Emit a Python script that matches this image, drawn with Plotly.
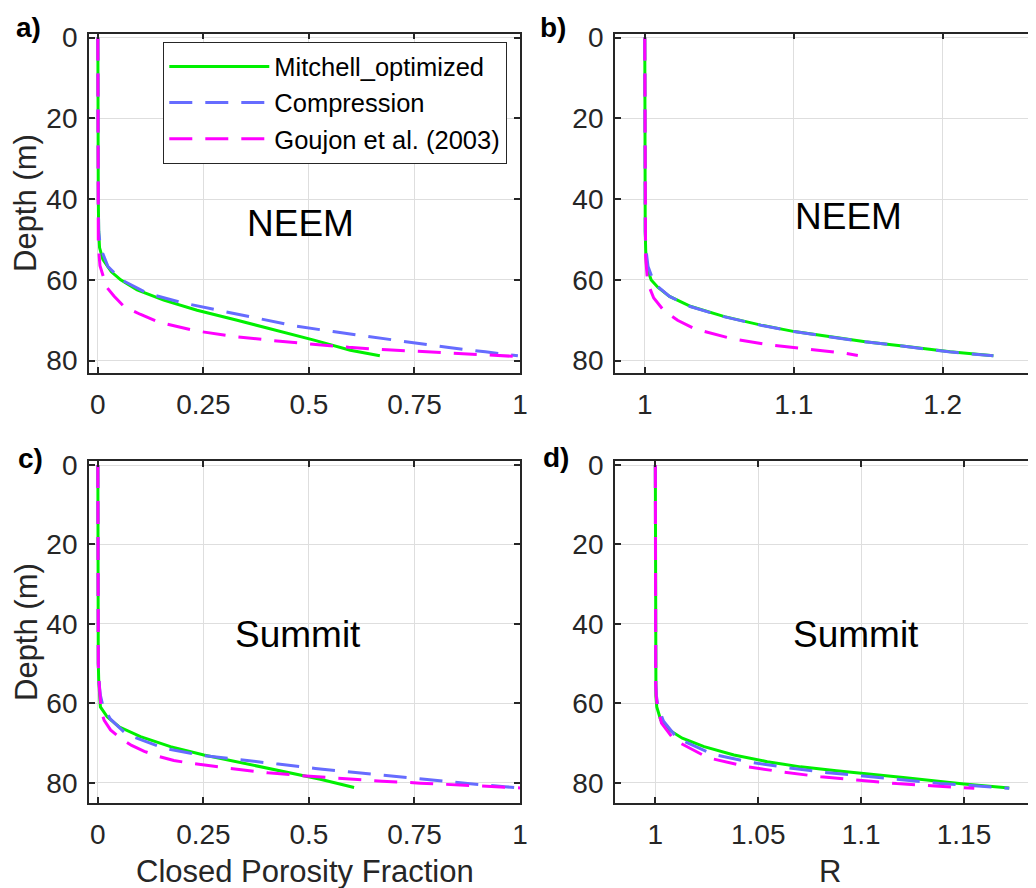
import plotly.graph_objects as go

# ---------------- data ----------------
# Panel a: NEEM closed porosity fraction
neem_mit_depth = [0, 10, 20, 30, 40, 48, 52, 55, 58, 60, 62.5, 65, 67.5, 70, 72.4, 74.9, 77.4, 78.8]
neem_mit_cpf = [0, 0, 0, 0, 0.001, 0.002, 0.004, 0.012, 0.032, 0.054, 0.093, 0.156, 0.235, 0.33, 0.421, 0.512, 0.598, 0.668]
neem_comp_depth = [0, 10, 20, 30, 40, 48, 52, 56.7, 60, 63.3, 65.7, 67.6, 69.5, 71.4, 72.8, 74.1, 75.4, 76.7, 77.8, 78.8]
neem_comp_cpf = [0, 0, 0, 0, 0.001, 0.002, 0.006, 0.024, 0.056, 0.117, 0.202, 0.289, 0.379, 0.468, 0.557, 0.648, 0.738, 0.827, 0.918, 0.995]
neem_gou_depth = [0, 10, 20, 30, 40, 50, 54, 56.5, 59.2, 61.7, 64, 66.6, 68.5, 70.5, 72.6, 74.0, 75.0, 75.9, 76.7, 77.3, 77.8, 78.3, 78.8, 79.0]
neem_gou_cpf = [0, 0, 0, 0, 0, 0.001, 0.003, 0.005, 0.013, 0.02, 0.038, 0.062, 0.1, 0.145, 0.231, 0.322, 0.413, 0.504, 0.594, 0.685, 0.776, 0.866, 0.956, 1.0]

# Panel b: NEEM R
neem_mit_rdepth = [0, 10, 20, 30, 40, 48, 52.6, 56.7, 60, 61.8, 64.1, 66.6, 69.1, 71.2, 72.8, 74.1, 75.3, 76.3, 77.8, 78.8]
neem_mit_r = [1, 1, 1, 1, 1.0001, 1.0003, 1.0006, 1.0012, 1.0043, 1.0087, 1.0166, 1.031, 1.0535, 1.078, 1.1005, 1.125, 1.148, 1.1716, 1.205, 1.234]
neem_comp_rdepth = [0, 10, 20, 30, 40, 48, 52.6, 56.7, 60, 61.8, 64.1, 66.6, 69.1, 71.2, 72.8, 74.1, 75.3, 76.3, 77.8, 78.8]
neem_comp_r = [1, 1, 1, 1, 1.0001, 1.0003, 1.0008, 1.0022, 1.0055, 1.0092, 1.0166, 1.0305, 1.053, 1.0775, 1.1, 1.124, 1.147, 1.171, 1.204, 1.234]
neem_gou_rdepth = [0, 10, 20, 30, 40, 50, 54, 56.5, 59.2, 62.1, 64.5, 67.5, 70, 72.2, 74.6, 76.1, 77.1, 78.2, 78.7]
neem_gou_r = [1, 1, 1, 1, 1, 1.0001, 1.0005, 1.001, 1.0016, 1.0034, 1.006, 1.0126, 1.022, 1.034, 1.059, 1.084, 1.1095, 1.135, 1.143]

# Panel c: Summit closed porosity fraction
sum_mit_depth = [0, 10, 20, 30, 40, 50, 54, 56.6, 59, 60.9, 63.4, 65.9, 68.4, 70.9, 73.0, 75.1, 77.2, 79.1, 81.2]
sum_mit_cpf = [0, 0, 0, 0, 0, 0.001, 0.002, 0.003, 0.004, 0.006, 0.022, 0.05, 0.101, 0.172, 0.251, 0.346, 0.441, 0.527, 0.607]
sum_comp_depth = [0, 10, 20, 30, 40, 50, 55, 58, 60.9, 64, 67.8, 71.3, 73.1, 74.1, 75.3, 76.4, 77.4, 78.3, 79.3, 80.2, 81.0, 81.3]
sum_comp_cpf = [0, 0, 0, 0, 0, 0.001, 0.003, 0.006, 0.0126, 0.03, 0.068, 0.156, 0.247, 0.336, 0.427, 0.515, 0.606, 0.697, 0.786, 0.876, 0.964, 1.0]
sum_gou_depth = [0, 10, 20, 30, 40, 50, 55, 58, 62, 64.3, 66.7, 68.8, 70.6, 72.1, 73.4, 74.4, 75.1, 76.4, 77.5, 78.3, 79.0, 79.6, 80.1, 80.6, 81.1, 81.3]
sum_gou_cpf = [0, 0, 0, 0, 0, 0.001, 0.003, 0.005, 0.008, 0.015, 0.03, 0.054, 0.08, 0.11, 0.145, 0.18, 0.221, 0.313, 0.403, 0.493, 0.583, 0.673, 0.764, 0.855, 0.945, 1.0]

# Panel d: Summit R
sum_mit_rdepth = [0, 10, 20, 30, 40, 50, 55, 58.3, 60.9, 64.2, 66.7, 68.8, 70.9, 73.0, 74.7, 76.0, 77.0, 77.6, 78.7, 80.3, 81.3]
sum_mit_r = [1, 1, 1, 1, 1, 1.0001, 1.0002, 1.0003, 1.0007, 1.0026, 1.0067, 1.0131, 1.0237, 1.0382, 1.0544, 1.0706, 1.088, 1.1, 1.1205, 1.15, 1.172]
sum_comp_rdepth = [0, 10, 20, 30, 40, 50, 55, 58, 60.9, 64.5, 68.8, 72.8, 74.8, 76.2, 77.4, 78.3, 79.3, 80.2, 80.8, 81.4]
sum_comp_r = [1, 1, 1, 1, 1, 1.0001, 1.0002, 1.0005, 1.0013, 1.004, 1.0107, 1.0279, 1.0457, 1.0641, 1.0825, 1.101, 1.1197, 1.1383, 1.1567, 1.172]
sum_gou_rdepth = [0, 10, 20, 30, 40, 50, 55, 58, 61, 65, 69.2, 73.7, 75.9, 77.3, 78.5, 79.4, 80.2, 80.8, 81.4]
sum_gou_r = [1, 1, 1, 1, 1, 1.0001, 1.0002, 1.0004, 1.001, 1.003, 1.0091, 1.0256, 1.0439, 1.0619, 1.0804, 1.0992, 1.1173, 1.1359, 1.155]

series_names = ["Mitchell_optimized", "Compression", "Goujon et al. (2003)"]
site_labels = ["NEEM", "NEEM", "Summit", "Summit"]
panel_labels = ["a)", "b)", "c)", "d)"]
cpf_ticks = [0, 0.25, 0.5, 0.75, 1]
cpf_ticktext = ["0", "0.25", "0.5", "0.75", "1"]
neem_r_ticks = [1, 1.1, 1.2]
neem_r_ticktext = ["1", "1.1", "1.2"]
sum_r_ticks = [1, 1.05, 1.1, 1.15]
sum_r_ticktext = ["1", "1.05", "1.1", "1.15"]
depth_ticks = [0, 20, 40, 60, 80]

# ---------------- styles ----------------
GREEN = "rgb(0,240,0)"
BLUE = "rgb(102,108,255)"
MAGENTA = "rgb(255,0,255)"
DASH = "23px,13px"
AX = "rgb(38,38,38)"
FONT = "Arial, Liberation Sans, sans-serif"
OFF = 8               # page body margin of the html page
W, H = 1036 - OFF, 888 - OFF

fig = go.Figure()

panels = [
    ("x", "y", neem_mit_cpf, neem_mit_depth, neem_comp_cpf, neem_comp_depth, neem_gou_cpf, neem_gou_depth),
    ("x2", "y2", neem_mit_r, neem_mit_rdepth, neem_comp_r, neem_comp_rdepth, neem_gou_r, neem_gou_rdepth),
    ("x3", "y3", sum_mit_cpf, sum_mit_depth, sum_comp_cpf, sum_comp_depth, sum_gou_cpf, sum_gou_depth),
    ("x4", "y4", sum_mit_r, sum_mit_rdepth, sum_comp_r, sum_comp_rdepth, sum_gou_r, sum_gou_rdepth),
]
for i, (xa, ya, gx, gy, bx, by, mx, my) in enumerate(panels):
    show = i == 0
    fig.add_trace(go.Scatter(x=gx, y=gy, xaxis=xa, yaxis=ya, mode="lines", name=series_names[0],
                             line=dict(color=GREEN, width=3), showlegend=show, legendrank=1))
    fig.add_trace(go.Scatter(x=bx, y=by, xaxis=xa, yaxis=ya, mode="lines", name=series_names[1],
                             line=dict(color=BLUE, width=3, dash=DASH), showlegend=show, legendrank=2))
    fig.add_trace(go.Scatter(x=mx, y=my, xaxis=xa, yaxis=ya, mode="lines", name=series_names[2],
                             line=dict(color=MAGENTA, width=3, dash=DASH), showlegend=show, legendrank=3))

def px_x(v):
    return (v - OFF) / W

def px_y(v):
    return 1 - (v - OFF) / H

common = dict(showline=True, linecolor=AX, linewidth=1.8, mirror="ticks", ticks="inside",
              ticklen=6, tickwidth=1.5, tickcolor=AX, showgrid=True, gridcolor="rgb(222,222,222)",
              gridwidth=1, zeroline=False, tickfont=dict(family=FONT, size=28, color=AX),
              automargin=False)
xcommon = dict(ticklabelstandoff=6, **common)
ycommon = dict(ticklabelstandoff=4, tickvals=depth_ticks, **common)

left_dom = [px_x(89), px_x(520)]
right_dom = [px_x(615), 1.0]
top_dom = [px_y(372.8), px_y(33.5)]
bot_dom = [px_y(802.6), px_y(461.1)]

fig.update_layout(
    xaxis=dict(domain=left_dom, anchor="y", range=[-0.021, 1.0], tickvals=cpf_ticks, ticktext=cpf_ticktext, **xcommon),
    yaxis=dict(domain=top_dom, anchor="x", range=[83, -1], **ycommon),
    xaxis2=dict(domain=right_dom, anchor="y2", range=[0.98, 1.2626], tickvals=neem_r_ticks, ticktext=neem_r_ticktext, **xcommon),
    yaxis2=dict(domain=top_dom, anchor="x2", range=[83, -1], **ycommon),
    xaxis3=dict(domain=left_dom, anchor="y3", range=[-0.021, 1.0], tickvals=cpf_ticks, ticktext=cpf_ticktext, **xcommon),
    yaxis3=dict(domain=bot_dom, anchor="x3", range=[85, -1], **ycommon),
    xaxis4=dict(domain=right_dom, anchor="y4", range=[0.9804, 1.185], tickvals=sum_r_ticks, ticktext=sum_r_ticktext, **xcommon),
    yaxis4=dict(domain=bot_dom, anchor="x4", range=[85, -1], **ycommon),
)

annotations = []
# site labels in data coords
site_pos = [("x", "y", 0.479, 46.0), ("x2", "y2", 1.1367, 44.3), ("x3", "y3", 0.473, 42.7), ("x4", "y4", 1.0977, 42.7)]
for (xr, yr, xv, yv), txt in zip(site_pos, site_labels):
    annotations.append(dict(x=xv, y=yv, xref=xr, yref=yr, text=txt, showarrow=False,
                            xanchor="center", yanchor="middle", font=dict(family=FONT, size=37, color="black")))
# panel letters
letter_pos = [(43, 27), (568, 27), (45, 458), (571, 457)]
for (lx, ly), txt in zip(letter_pos, panel_labels):
    annotations.append(dict(x=px_x(lx), y=px_y(ly), xref="paper", yref="paper", text="<b>" + txt + "</b>",
                            showarrow=False, xanchor="right", yanchor="middle",
                            font=dict(family=FONT, size=28, color="black")))
# axis titles
for ly in [203, 632]:
    annotations.append(dict(x=px_x(26), y=px_y(ly), xref="paper", yref="paper", text="Depth (m)", textangle=-90,
                            showarrow=False, xanchor="center", yanchor="middle",
                            font=dict(family=FONT, size=31, color=AX)))
annotations.append(dict(x=px_x(304.5), y=0, xref="paper", yref="paper", text="Closed Porosity Fraction",
                        showarrow=False, xanchor="center", yanchor="bottom", yshift=-3,
                        font=dict(family=FONT, size=31, color=AX)))
annotations.append(dict(x=px_x(830), y=0, xref="paper", yref="paper", text="R",
                        showarrow=False, xanchor="center", yanchor="bottom", yshift=-3,
                        font=dict(family=FONT, size=31, color=AX)))

fig.update_layout(
    width=W, height=H, margin=dict(l=0, r=0, t=0, b=0),
    paper_bgcolor="white", plot_bgcolor="white",
    font=dict(family=FONT, color=AX),
    annotations=annotations,
    showlegend=True,
    legend=dict(x=px_x(163), y=px_y(42), xanchor="left", yanchor="top", bgcolor="white",
                bordercolor="rgb(38,38,38)", borderwidth=1.3, font=dict(family=FONT, size=25.5, color="black"),
                itemwidth=100, tracegroupgap=0),
)

fig.write_html("out.html")
